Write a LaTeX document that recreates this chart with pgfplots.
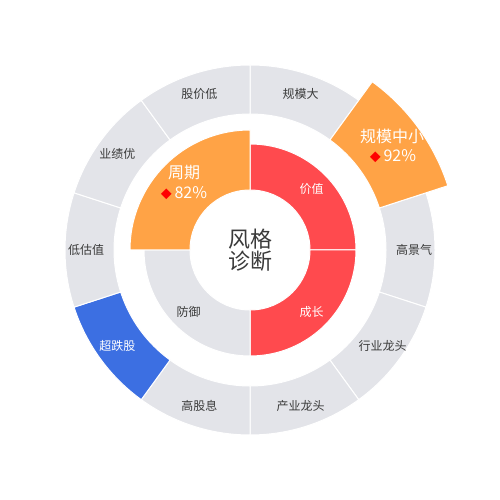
\documentclass[border=0pt]{standalone}
\usepackage{pgfplots}
\pgfplotsset{compat=1.18}
\usepackage{fontspec}
\setmainfont{Noto Sans CJK SC}
\definecolor{cgray}{HTML}{E3E4E9}
\definecolor{cred}{HTML}{FF4A4E}
\definecolor{corange}{HTML}{FFA346}
\definecolor{cblue}{HTML}{3C6FE2}
\definecolor{ctext}{HTML}{3A3A3A}
% sector: start angle, end angle (clockwise from top), inner r, outer r, colour
\newcommand\sector[5]{%
  \fill[shift={(axis cs:0,0)},#5,draw=white,line width=1pt]
    ({90-#1}:#4pt) arc[start angle={90-#1},end angle={90-#2},radius=#4pt]
    -- ({90-#2}:#3pt) arc[start angle={90-#2},end angle={90-#1},radius=#3pt] -- cycle;}
\begin{document}
\begin{tikzpicture}
\begin{axis}[x=1pt,y=1pt,xmin=-250,xmax=250,ymin=-250,ymax=250,
  hide axis,scale only axis,clip=false]
\path (axis cs:-250,-250) rectangle (axis cs:250,250);
% outer ring
\sector{0}{36}{136}{185}{cgray}
\sector{72}{108}{136}{185}{cgray}
\sector{108}{144}{136}{185}{cgray}
\sector{144}{180}{136}{185}{cgray}
\sector{180}{216}{136}{185}{cgray}
\sector{216}{252}{136}{185}{cblue}
\sector{252}{288}{136}{185}{cgray}
\sector{288}{324}{136}{185}{cgray}
\sector{324}{360}{136}{185}{cgray}
\sector{36}{72}{136}{208}{corange}
% inner ring
\sector{0}{90}{60}{106}{cred}
\sector{90}{180}{60}{106}{cred}
\sector{180}{270}{60}{106}{cgray}
\sector{270}{360}{60}{120}{corange}
% outer labels
\begin{scope}[every node/.style={font=\fontsize{12}{14}\selectfont,text=ctext}]
\node at (axis cs:50.7,156) {规模大};
\node at (axis cs:164,0) {高景气};
\node at (axis cs:132.7,-96.4) {行业龙头};
\node at (axis cs:50.7,-156) {产业龙头};
\node at (axis cs:-50.7,-156) {高股息};
\node[text=white] at (axis cs:-132.7,-96.4) {超跌股};
\node at (axis cs:-164,0) {低估值};
\node at (axis cs:-132.7,96.4) {业绩优};
\node at (axis cs:-50.7,156) {股价低};
% inner labels
\node[text=white] at (axis cs:61.5,61.5) {价值};
\node[text=white] at (axis cs:61.5,-61.5) {成长};
\node at (axis cs:-61.5,-61.5) {防御};
\end{scope}
% highlighted labels
\node[font=\fontsize{16}{18}\selectfont,text=white] at (axis cs:142,114) {规模中小};
\node[font=\fontsize{16}{18}\selectfont,text=white] at (axis cs:143,94) {{\color{red}\fontsize{11}{11}\selectfont ◆}\,92\%};
\node[font=\fontsize{16}{18}\selectfont,text=white] at (axis cs:-66,77) {周期};
\node[font=\fontsize{16}{18}\selectfont,text=white] at (axis cs:-66,57) {{\color{red}\fontsize{11}{11}\selectfont ◆}\,82\%};
% centre
\node[font=\fontsize{22}{22}\selectfont,text=ctext,align=center] at (axis cs:0,0) {风格\\诊断};
\end{axis}
\end{tikzpicture}
\end{document}
